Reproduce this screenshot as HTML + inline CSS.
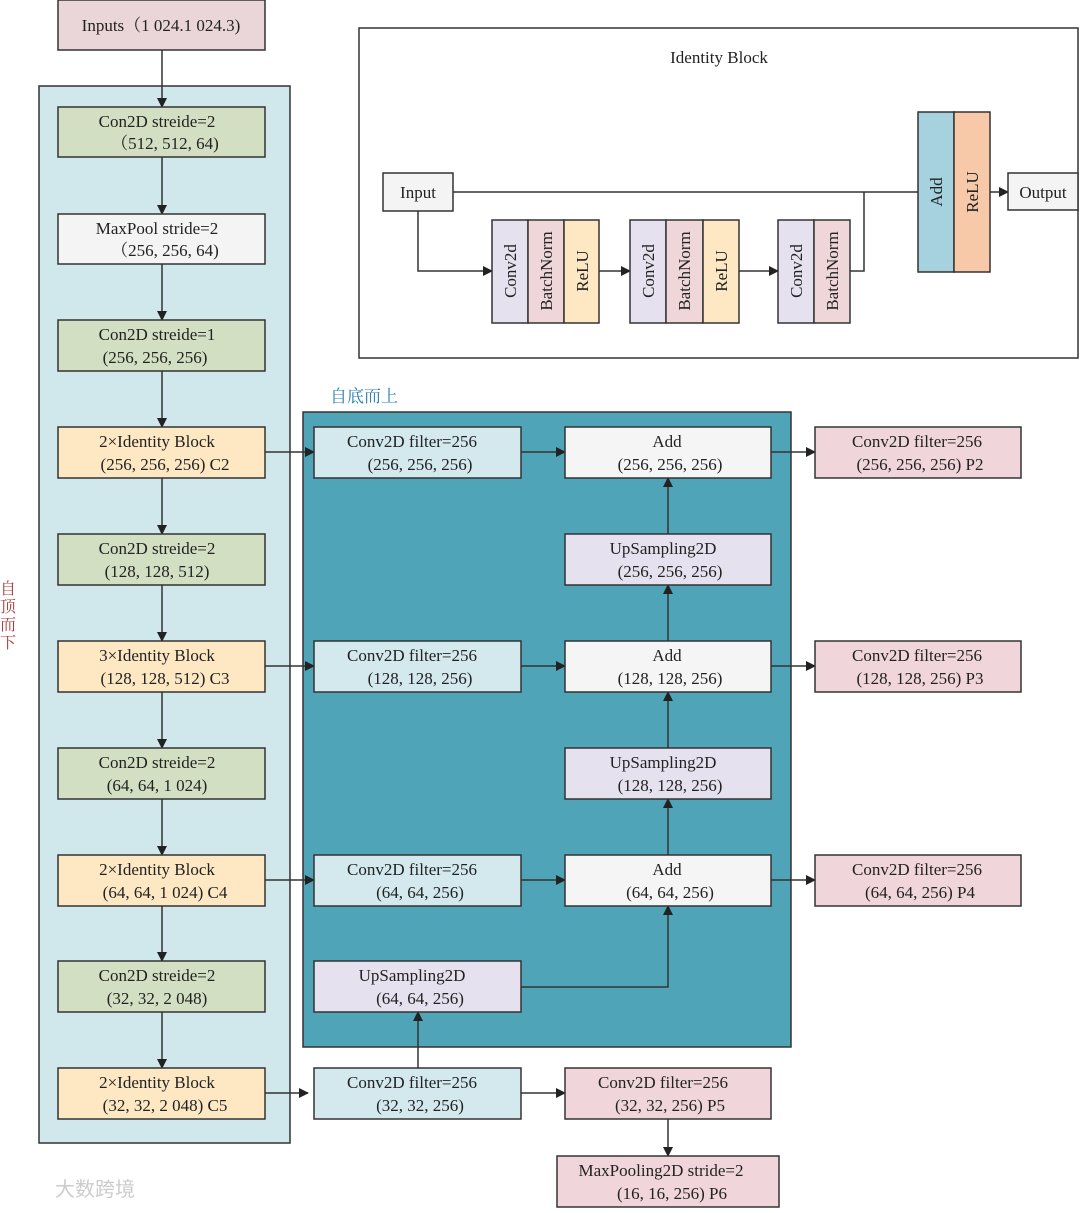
<!DOCTYPE html>
<html><head><meta charset="utf-8"><style>
html,body{margin:0;padding:0;background:#fff;}
svg text{font-family:"Liberation Serif","Noto Serif CJK SC",serif;font-size:17px;fill:#222;}
</style></head><body>
<svg width="1080" height="1208" viewBox="0 0 1080 1208" xmlns="http://www.w3.org/2000/svg">
<defs><marker id="a" markerWidth="10" markerHeight="10" refX="9" refY="5" orient="auto" markerUnits="userSpaceOnUse"><path d="M0,0 L10,5 L0,10 z" fill="#222"/></marker></defs>
<g stroke="#333" stroke-width="1.5">
<rect x="39" y="86" width="251" height="1057" fill="#d0e7eb"/>
<rect x="303" y="412" width="488" height="635" fill="#4fa4b7"/>
<rect x="359" y="28" width="719" height="330" fill="#fff"/>
</g>
<text x="330" y="402" style="fill:#2a7fb0">自底而上</text>
<g style="font-size:16px;fill:#b03a3a"><text x="0" y="594" style="fill:#b03a3a;font-size:16px">自</text><text x="0" y="612" style="fill:#b03a3a;font-size:16px">顶</text><text x="0" y="630" style="fill:#b03a3a;font-size:16px">而</text><text x="0" y="648" style="fill:#b03a3a;font-size:16px">下</text></g>
<g stroke="#333" stroke-width="1.5" fill="none" marker-end="url(#a)">
<line x1="162" y1="50" x2="162" y2="107"/>
<line x1="162" y1="157" x2="162" y2="214"/>
<line x1="162" y1="264" x2="162" y2="320"/>
<line x1="162" y1="371" x2="162" y2="427"/>
<line x1="162" y1="478" x2="162" y2="534"/>
<line x1="162" y1="585" x2="162" y2="641"/>
<line x1="162" y1="692" x2="162" y2="748"/>
<line x1="162" y1="799" x2="162" y2="855"/>
<line x1="162" y1="906" x2="162" y2="961"/>
<line x1="162" y1="1012" x2="162" y2="1068"/>
<line x1="265" y1="452" x2="314" y2="452"/>
<line x1="265" y1="666" x2="314" y2="666"/>
<line x1="265" y1="880" x2="314" y2="880"/>
<line x1="265" y1="1093" x2="308" y2="1093"/>
<line x1="521" y1="452" x2="565" y2="452"/>
<line x1="521" y1="666" x2="565" y2="666"/>
<line x1="521" y1="880" x2="565" y2="880"/>
<line x1="771" y1="452" x2="815" y2="452"/>
<line x1="771" y1="666" x2="815" y2="666"/>
<line x1="771" y1="880" x2="815" y2="880"/>
<line x1="668" y1="534" x2="668" y2="478"/>
<line x1="668" y1="641" x2="668" y2="585"/>
<line x1="668" y1="748" x2="668" y2="692"/>
<line x1="668" y1="855" x2="668" y2="799"/>
<polyline points="521,987 668,987 668,906"/>
<line x1="418" y1="1068" x2="418" y2="1012"/>
<line x1="521" y1="1093" x2="565" y2="1093"/>
<line x1="668" y1="1118" x2="668" y2="1156"/>
<polyline points="418,211 418,271 492,271"/>
<line x1="599" y1="271" x2="630" y2="271"/>
<line x1="739" y1="271" x2="778" y2="271"/>
<line x1="990" y1="192" x2="1008" y2="192"/>
</g>
<g stroke="#333" stroke-width="1.5" fill="none">
<line x1="453" y1="192" x2="918" y2="192"/>
<polyline points="850,271 864,271 864,192"/>
</g>
<g stroke="#333" stroke-width="1.5">
<rect x="58" y="0" width="207" height="50" fill="#ead5d8"/>
<rect x="58" y="107" width="207" height="50" fill="#d2dfc2"/>
<rect x="58" y="214" width="207" height="50" fill="#f4f4f4"/>
<rect x="58" y="320" width="207" height="51" fill="#d2dfc2"/>
<rect x="58" y="427" width="207" height="51" fill="#fde8c3"/>
<rect x="58" y="534" width="207" height="51" fill="#d2dfc2"/>
<rect x="58" y="641" width="207" height="51" fill="#fde8c3"/>
<rect x="58" y="748" width="207" height="51" fill="#d2dfc2"/>
<rect x="58" y="855" width="207" height="51" fill="#fde8c3"/>
<rect x="58" y="961" width="207" height="51" fill="#d2dfc2"/>
<rect x="58" y="1068" width="207" height="51" fill="#fde8c3"/>
<rect x="314" y="427" width="207" height="51" fill="#d3e9ee"/>
<rect x="314" y="641" width="207" height="51" fill="#d3e9ee"/>
<rect x="314" y="855" width="207" height="51" fill="#d3e9ee"/>
<rect x="314" y="961" width="207" height="51" fill="#e5e1ee"/>
<rect x="314" y="1068" width="207" height="51" fill="#d3e9ee"/>
<rect x="565" y="427" width="206" height="51" fill="#f5f5f5"/>
<rect x="565" y="534" width="206" height="51" fill="#e5e1ee"/>
<rect x="565" y="641" width="206" height="51" fill="#f5f5f5"/>
<rect x="565" y="748" width="206" height="51" fill="#e5e1ee"/>
<rect x="565" y="855" width="206" height="51" fill="#f5f5f5"/>
<rect x="565" y="1068" width="206" height="51" fill="#f0d6da"/>
<rect x="557" y="1156" width="222" height="51" fill="#f0d6da"/>
<rect x="815" y="427" width="206" height="51" fill="#f0d6da"/>
<rect x="815" y="641" width="206" height="51" fill="#f0d6da"/>
<rect x="815" y="855" width="206" height="51" fill="#f0d6da"/>
<rect x="383" y="173" width="70" height="38" fill="#f4f4f4"/>
<rect x="1008" y="173" width="70" height="37" fill="#f4f4f4"/>
<rect x="492" y="220" width="36" height="103" fill="#e6e1ee"/>
<rect x="528" y="220" width="36" height="103" fill="#efd6d9"/>
<rect x="564" y="220" width="35" height="103" fill="#fde8c3"/>
<rect x="630" y="220" width="36" height="103" fill="#e6e1ee"/>
<rect x="666" y="220" width="37" height="103" fill="#efd6d9"/>
<rect x="703" y="220" width="36" height="103" fill="#fde8c3"/>
<rect x="778" y="220" width="36" height="103" fill="#e6e1ee"/>
<rect x="814" y="220" width="36" height="103" fill="#efd6d9"/>
<rect x="918" y="112" width="36" height="160" fill="#a6d2e0"/>
<rect x="954" y="112" width="36" height="160" fill="#f7c9a9"/>
</g>
<g text-anchor="middle">
<text x="161" y="31">Inputs（1 024.1 024.3)</text>
<text x="719" y="63">Identity Block</text>
<text x="418" y="198">Input</text>
<text x="1043" y="198">Output</text>
<text x="157" y="127">Con2D streide=2</text><text x="165" y="149">（512, 512, 64)</text>
<text x="157" y="234">MaxPool stride=2</text><text x="165" y="256">（256, 256, 64)</text>
<text x="157" y="340">Con2D streide=1</text><text x="155" y="363">(256, 256, 256)</text>
<text x="157" y="447">2×Identity Block</text><text x="165" y="470">(256, 256, 256) C2</text>
<text x="157" y="554">Con2D streide=2</text><text x="157" y="577">(128, 128, 512)</text>
<text x="157" y="661">3×Identity Block</text><text x="165" y="684">(128, 128, 512) C3</text>
<text x="157" y="768">Con2D streide=2</text><text x="157" y="791">(64, 64, 1 024)</text>
<text x="157" y="875">2×Identity Block</text><text x="165" y="898">(64, 64, 1 024) C4</text>
<text x="157" y="981">Con2D streide=2</text><text x="157" y="1004">(32, 32, 2 048)</text>
<text x="157" y="1088">2×Identity Block</text><text x="165" y="1111">(32, 32, 2 048) C5</text>
<text x="412" y="447">Conv2D filter=256</text><text x="420" y="470">(256, 256, 256)</text>
<text x="412" y="661">Conv2D filter=256</text><text x="420" y="684">(128, 128, 256)</text>
<text x="412" y="875">Conv2D filter=256</text><text x="420" y="898">(64, 64, 256)</text>
<text x="412" y="981">UpSampling2D</text><text x="420" y="1004">(64, 64, 256)</text>
<text x="412" y="1088">Conv2D filter=256</text><text x="420" y="1111">(32, 32, 256)</text>
<text x="667" y="447">Add</text><text x="670" y="470">(256, 256, 256)</text>
<text x="663" y="554">UpSampling2D</text><text x="670" y="577">(256, 256, 256)</text>
<text x="667" y="661">Add</text><text x="670" y="684">(128, 128, 256)</text>
<text x="663" y="768">UpSampling2D</text><text x="670" y="791">(128, 128, 256)</text>
<text x="667" y="875">Add</text><text x="670" y="898">(64, 64, 256)</text>
<text x="663" y="1088">Conv2D filter=256</text><text x="670" y="1111">(32, 32, 256) P5</text>
<text x="661" y="1176">MaxPooling2D stride=2</text><text x="672" y="1199">(16, 16, 256) P6</text>
<text x="917" y="447">Conv2D filter=256</text><text x="920" y="470">(256, 256, 256) P2</text>
<text x="917" y="661">Conv2D filter=256</text><text x="920" y="684">(128, 128, 256) P3</text>
<text x="917" y="875">Conv2D filter=256</text><text x="920" y="898">(64, 64, 256) P4</text>
</g>
<g text-anchor="middle">
<text transform="translate(516,271) rotate(-90)">Conv2d</text>
<text transform="translate(552,271) rotate(-90)">BatchNorm</text>
<text transform="translate(588,271) rotate(-90)">ReLU</text>
<text transform="translate(654,271) rotate(-90)">Conv2d</text>
<text transform="translate(690,271) rotate(-90)">BatchNorm</text>
<text transform="translate(727,271) rotate(-90)">ReLU</text>
<text transform="translate(802,271) rotate(-90)">Conv2d</text>
<text transform="translate(838,271) rotate(-90)">BatchNorm</text>
<text transform="translate(942,192) rotate(-90)">Add</text>
<text transform="translate(978,192) rotate(-90)">ReLU</text>
</g>
<text x="55" y="1196" style="fill:#ccc;font-size:20px;font-family:'Noto Sans CJK SC',sans-serif">大数跨境</text>
</svg>
</body></html>
